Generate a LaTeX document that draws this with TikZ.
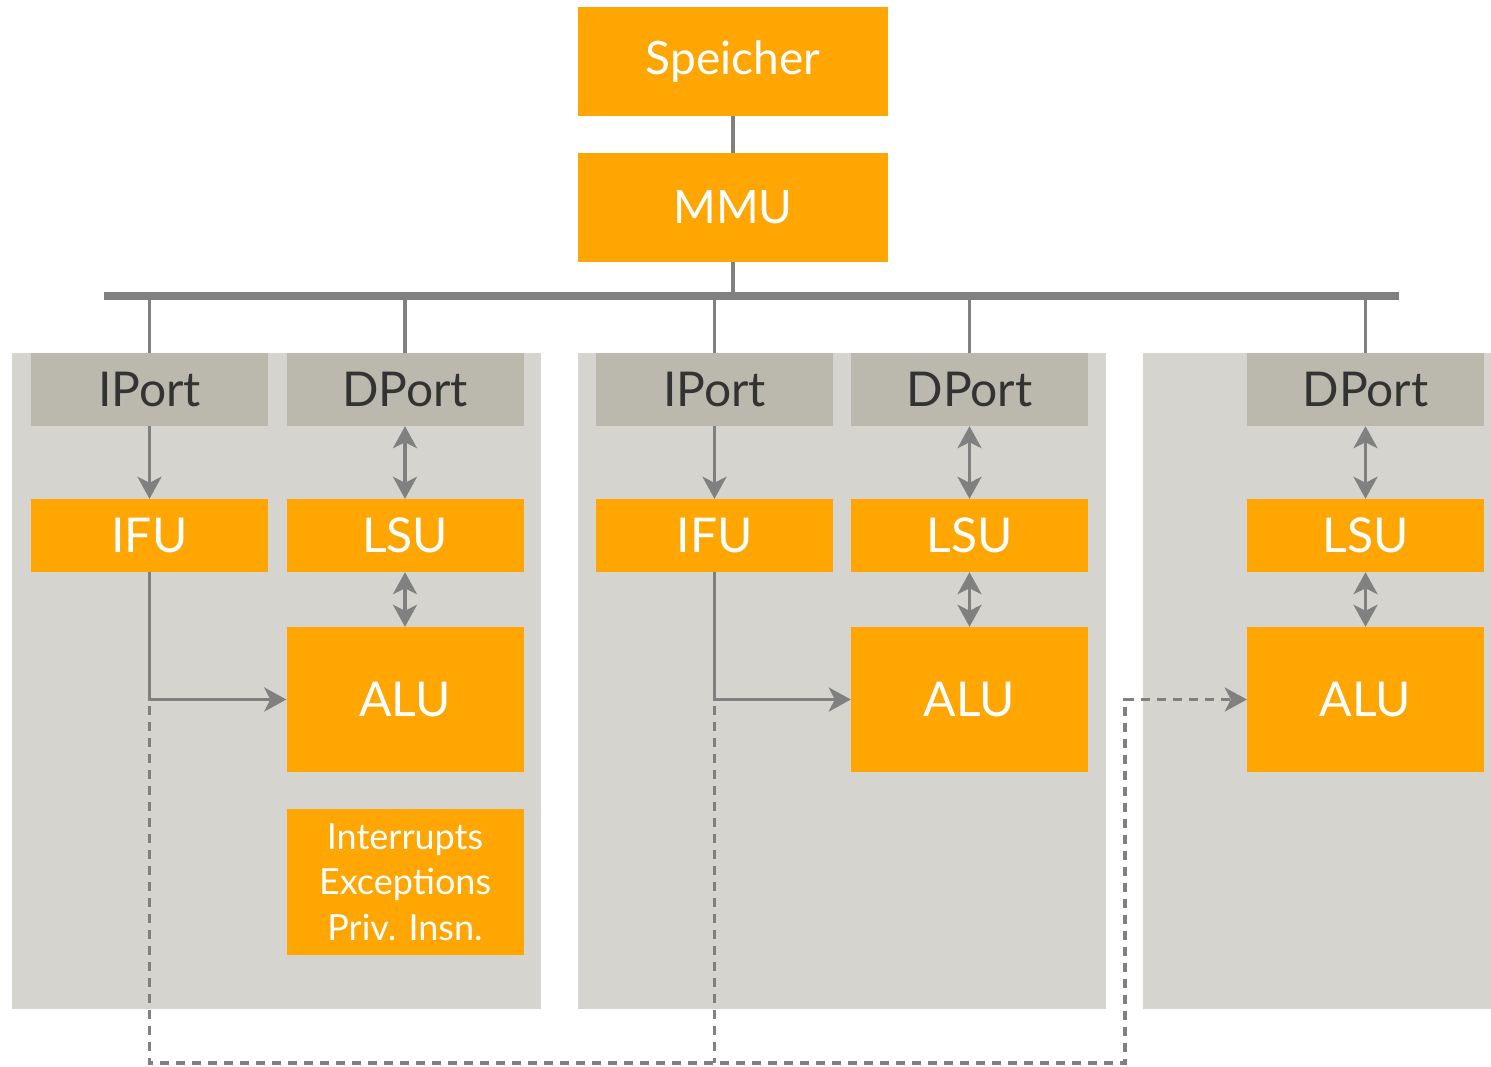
\documentclass[tikz,border=0pt]{standalone}
\usepackage{fontspec}
\setmainfont{Lato}
\usetikzlibrary{arrows.meta}
\definecolor{orangeC}{RGB}{255,166,2}
\definecolor{panelC}{RGB}{213,212,207}
\definecolor{portC}{RGB}{187,185,174}
\definecolor{lineC}{RGB}{128,128,128}
\definecolor{portT}{RGB}{51,51,51}
\tikzset{
  obox/.style={fill=orangeC, text=white, inner sep=0pt, minimum width=#1, font=\fontsize{48}{54}\selectfont},
  pbox/.style={fill=portC, text=portT, inner sep=0pt, minimum width=237pt, minimum height=73pt, font=\fontsize{48}{54}\selectfont},
  panel/.style={fill=panelC, inner sep=0pt},
  conn/.style={draw=lineC, line width=3.5pt},
  tip/.tip={Stealth[length=22pt,width=24pt,inset=6pt]},
  arr/.style={conn, -tip},
  darr/.style={conn, tip-tip},
  dconn/.style={conn, dash pattern=on 9pt off 7pt},
}
\begin{document}
\begin{tikzpicture}[x=1pt,y=-1pt]
\useasboundingbox (0,0) rectangle (1491,1066);
% panels
\node[panel, minimum width=529pt, minimum height=656pt] (pan1) at (276.5,681) {};
\node[panel, minimum width=528pt, minimum height=656pt] (pan2) at (842,681) {};
\node[panel, minimum width=348pt, minimum height=656pt] (pan3) at (1317,681) {};
% top
\node[obox=310pt, minimum height=109pt, font=\fontsize{46}{52}\selectfont] (spe) at (733,61.5) {Speicher};
\node[obox=310pt, minimum height=109pt, font=\fontsize{46}{52}\selectfont] (mmu) at (733,207.5) {MMU};
% ports
\node[pbox] (ip1) at (149.5,389.5) {IPort};
\node[pbox] (dp1) at (405,389.5) {DPort};
\node[pbox] (ip2) at (714.5,389.5) {IPort};
\node[pbox] (dp2) at (969.5,389.5) {DPort};
\node[pbox] (dp3) at (1365.5,389.5) {DPort};
% units
\node[obox=237pt, minimum height=73pt] (ifu1) at (149.5,535.5) {IFU};
\node[obox=237pt, minimum height=73pt] (lsu1) at (405,535.5) {LSU};
\node[obox=237pt, minimum height=73pt] (ifu2) at (714.5,535.5) {IFU};
\node[obox=237pt, minimum height=73pt] (lsu2) at (969.5,535.5) {LSU};
\node[obox=237pt, minimum height=73pt] (lsu3) at (1365.5,535.5) {LSU};
\node[obox=237pt, minimum height=145pt] (alu1) at (405,699.5) {ALU};
\node[obox=237pt, minimum height=145pt] (alu2) at (969.5,699.5) {ALU};
\node[obox=237pt, minimum height=145pt] (alu3) at (1365.5,699.5) {ALU};
\node[obox=237pt, minimum height=146pt, align=center, font=\fontsize{36}{45.5}\selectfont] (intr) at (405,882) {Interrupts\\Exceptions\\Priv. Insn.};
% bus
\coordinate (busL) at (104,296);
\coordinate (busR) at (1399,296);
\draw[draw=lineC, line width=8pt] (busL) -- (busR);
\draw[conn] (spe.south) -- (mmu.north);
\draw[conn] (mmu.south) -- (mmu.south |- busL);
\foreach \p in {ip1,dp1,ip2,dp2,dp3}{
  \draw[conn] (\p.north |- busL) -- (\p.north);
}
% arrows
\draw[arr] (ip1.south) -- (ifu1.north);
\draw[arr] (ip2.south) -- (ifu2.north);
\draw[darr] (dp1.south) -- (lsu1.north);
\draw[darr] (dp2.south) -- (lsu2.north);
\draw[darr] (dp3.south) -- (lsu3.north);
\draw[darr] (lsu1.south) -- (alu1.north);
\draw[darr] (lsu2.south) -- (alu2.north);
\draw[darr] (lsu3.south) -- (alu3.north);
\coordinate (j1) at (ifu1.south |- alu1.west);
\coordinate (j2) at (ifu2.south |- alu2.west);
\draw[arr] (ifu1.south) |- (alu1.west);
\draw[arr] (ifu2.south) |- (alu2.west);
% dashed feedback
\coordinate (b1) at (149.5,1063);
\coordinate (b2) at (714.5,1063);
\coordinate (b3) at (1125,1063);
\coordinate (t3) at (1125,699.5);
\draw[dconn, -tip] ([yshift=10pt]j1) -- (b1) -- (b3) -- (t3) -- (alu3.west);
\draw[dconn] ([yshift=10pt]j2) -- (b2);
\draw[conn] (j1) -- ([yshift=10pt]j1);
\draw[conn] (j2) -- ([yshift=10pt]j2);
\end{tikzpicture}
\end{document}
